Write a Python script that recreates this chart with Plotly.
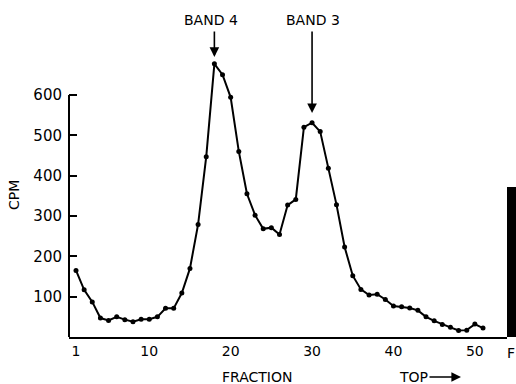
import plotly.graph_objects as go

fraction = list(range(1, 52))
cpm = [165, 117, 87, 47, 41, 50, 43, 38, 44, 44,
       50, 71, 71, 109, 170, 279, 447, 677, 650, 594,
       460, 355, 302, 268, 271, 254, 327, 341, 520, 531,
       509, 418, 328, 223, 152, 118, 104, 106, 93, 77,
       75, 72, 66, 50, 40, 31, 24, 16, 17, 32, 22]
x_ticks = [1, 10, 20, 30, 40, 50]
y_ticks = [100, 200, 300, 400, 500, 600]
band_labels = ["BAND 4", "BAND 3"]
band_fraction = [18, 30]
band_label_x = [17.6, 30.1]
band_arrow_tip = [694, 555]
band_arrow_len = [-27, -83]

FONT = "DejaVu Sans"
W, H = 516, 384
L, R, T, B = 69, 9, 40, 47
PW, PH = W - L - R, H - T - B
YMAX = PH / 0.4035
XMIN = 1 + (L - 76) / 8.14
XMAX = 1 + (W - R - 76) / 8.14


def px_to_paper_x(px):
    return (px - L) / PW


def px_to_paper_y(py):
    return (H - B - py) / PH


def px_to_y(py):
    return (H - B - py) / 0.4035


fig = go.Figure()
fig.add_trace(go.Scatter(
    x=fraction, y=cpm, mode="lines+markers",
    line=dict(color="black", width=2),
    marker=dict(color="black", size=5),
    cliponaxis=False, showlegend=False))

tf = dict(family=FONT, size=14, color="black")
annotations = []
for label, fx, lx, yv, ay in zip(band_labels, band_fraction, band_label_x,
                                 band_arrow_tip, band_arrow_len):
    annotations.append(dict(x=fx, y=yv, xref="x", yref="y", ax=0, ay=ay,
                            showarrow=True, arrowhead=2, arrowsize=1.2,
                            arrowwidth=1.6, arrowcolor="black", text=""))
    annotations.append(dict(x=lx, y=px_to_paper_y(20), xref="x", yref="paper",
                            xanchor="center", yanchor="middle",
                            text=label, showarrow=False, font=tf))
annotations.append(dict(x=px_to_paper_x(257), y=px_to_paper_y(377), xref="paper", yref="paper",
                        xanchor="center", yanchor="middle",
                        text="FRACTION", showarrow=False, font=tf))
annotations.append(dict(x=px_to_paper_x(397), y=px_to_paper_y(377), xref="paper", yref="paper",
                        text="TOP", showarrow=False, xanchor="left", yanchor="middle", font=tf))
annotations.append(dict(x=px_to_paper_x(461), y=px_to_paper_y(377), xref="paper", yref="paper",
                        ax=-33, ay=0, text="", showarrow=True, arrowhead=2,
                        arrowsize=1.2, arrowwidth=1.6, arrowcolor="black"))
annotations.append(dict(x=px_to_paper_x(14), y=px_to_paper_y(195), xref="paper", yref="paper",
                        xanchor="center", yanchor="middle",
                        text="CPM", textangle=-90, showarrow=False, font=tf))
annotations.append(dict(x=px_to_paper_x(516), y=px_to_paper_y(353), xref="paper", yref="paper",
                        text="F", showarrow=False, xanchor="right", yanchor="middle",
                        font=tf, borderpad=0))

shapes = [
    dict(type="line", xref="paper", yref="y", x0=0, x1=0, y0=0, y1=600,
         line=dict(color="black", width=2)),
    dict(type="rect", xref="paper", yref="y", x0=px_to_paper_x(507), x1=px_to_paper_x(520),
         y0=0, y1=px_to_y(187), fillcolor="black", line=dict(width=0)),
]

fig.update_layout(
    width=W, height=H,
    margin=dict(l=L, r=R, t=T, b=B),
    paper_bgcolor="white", plot_bgcolor="white",
    font=tf,
    annotations=annotations, shapes=shapes,
    xaxis=dict(range=[XMIN, XMAX], tickvals=x_ticks, ticks="", showgrid=False,
               zeroline=False, showline=True, linecolor="black", linewidth=2,
               tickfont=tf),
    yaxis=dict(range=[0, YMAX], tickvals=y_ticks, ticks="inside", ticklen=8,
               tickwidth=2, tickcolor="black", showgrid=False, zeroline=False,
               showline=False, ticklabelstandoff=6,
               tickfont=dict(family=FONT, size=15, color="black")),
)

fig.write_html("out.html")
